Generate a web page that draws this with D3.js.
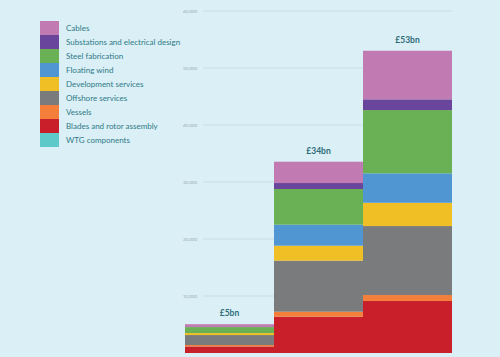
<!DOCTYPE html>
<html><head><meta charset="utf-8">
<script src="https://cdn.jsdelivr.net/npm/d3@7"></script>
<style>html,body{margin:0;padding:0;background:#daeff6;}svg{display:block;}</style>
</head><body>
<svg id="c" width="500" height="357"></svg>
<script>
const categories = ["£5bn", "£34bn", "£53bn"];
const seriesNames = ["WTG components","Blades and rotor assembly","Vessels","Offshore services","Development services","Floating wind","Steel fabrication","Substations and electrical design","Cables"];
const wtg        = [0, 0, 0];
const blades     = [1150, 6370, 9120];
const vessels    = [250, 880, 1050];
const offshore   = [1750, 8950, 12100];
const development= [350, 2630, 4090];
const floating   = [0, 3680, 5160];
const steel      = [1050, 6260, 11100];
const substations= [0, 1050, 1880];
const cables     = [500, 3740, 8530];
const yTicks = [10000, 20000, 30000, 40000, 50000, 60000];
const colors = ["#5ec9c9","#c81f2b","#f47f3a","#797b7d","#f0be25","#4f96d3","#6ab155","#6a459c","#c27ab3"];

const seriesValues = [wtg, blades, vessels, offshore, development, floating, steel, substations, cables];
const rows = categories.map((c, i) => {
  const r = {cat: c};
  seriesNames.forEach((s, j) => r[s] = seriesValues[j][i]);
  return r;
});
const svg = d3.select("#c");
const x = d3.scaleBand().domain(categories).range([185, 452]).padding(0);
const y = d3.scaleLinear().domain([0, 60000]).range([353, 11]);

// gridlines
const grid = svg.append("g");
grid.selectAll("line").data(yTicks).join("line")
  .attr("x1", 203).attr("x2", 452)
  .attr("y1", d => y(d)).attr("y2", d => y(d))
  .attr("stroke", "#c3dbe2").attr("stroke-width", 0.8);
grid.selectAll("text").data(yTicks).join("text")
  .attr("x", 197).attr("y", d => y(d) + 1.6)
  .attr("text-anchor", "end")
  .attr("font-family", "Lato, 'Open Sans', sans-serif").attr("font-size", 4.5)
  .attr("fill", "#98aeb5")
  .text(d => d3.format(",")(d));

const stack = d3.stack().keys(seriesNames)(rows);
svg.append("g").selectAll("g").data(stack).join("g")
  .attr("fill", (d, i) => colors[i])
  .selectAll("rect").data(d => d).join("rect")
  .attr("x", d => x(d.data.cat))
  .attr("width", x.bandwidth())
  .attr("y", d => y(d[1]))
  .attr("height", d => Math.max(0, y(d[0]) - y(d[1])));

// totals
const totals = rows.map(r => seriesNames.reduce((a, s) => a + r[s], 0));
svg.append("g").selectAll("text").data(categories).join("text")
  .attr("x", d => x(d) + x.bandwidth() / 2)
  .attr("y", (d, i) => y(totals[i]) - 8)
  .attr("text-anchor", "middle")
  .attr("font-family", "Lato, 'Open Sans', sans-serif").attr("font-weight", 700)
  .attr("font-size", 8.5).attr("fill", "#2f6d79")
  .text(d => d);

// legend
const legendOrder = seriesNames.map((s, i) => ({name: s, color: colors[i]})).reverse();
const lg = svg.append("g");
lg.selectAll("rect").data(legendOrder).join("rect")
  .attr("x", 40).attr("y", (d, i) => 21 + i * 14)
  .attr("width", 19).attr("height", 14)
  .attr("fill", d => d.color);
lg.selectAll("text").data(legendOrder).join("text")
  .attr("x", 66).attr("y", (d, i) => 31.2 + i * 14)
  .attr("font-family", "Lato, 'Open Sans', sans-serif")
  .attr("font-size", 8).attr("fill", "#2f7a86")
  .text(d => d.name);
</script>
</body></html>
